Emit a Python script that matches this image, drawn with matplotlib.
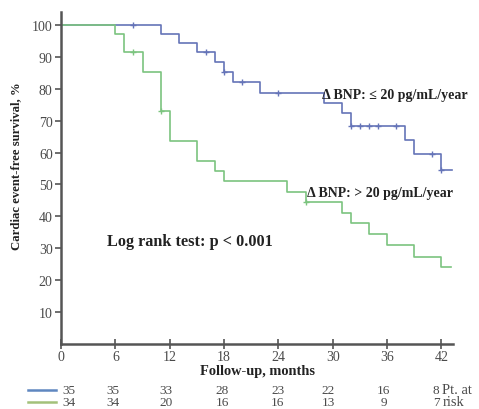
import matplotlib
matplotlib.use("Agg")
import matplotlib.pyplot as plt

# step curves: (time of drop, survival after drop)
blue_t = [0, 11, 13, 15, 17, 18, 19, 22, 29, 31, 32, 38, 39, 42, 43.2]
blue_s = [100, 97.1, 94.3, 91.4, 88.3, 85.2, 82.0, 78.7, 75.5, 72.3, 68.4, 64.0, 59.6, 54.4, 54.4]
blue_cens_t = [8, 16, 18, 20, 24, 32, 33, 34, 35, 37, 41, 42]
blue_cens_s = [100, 91.4, 85.2, 82.0, 78.7, 68.4, 68.4, 68.4, 68.4, 68.4, 59.6, 54.4]

green_t = [0, 6, 7, 9, 11, 12, 15, 17, 18, 25, 27, 31, 32, 34, 36, 39, 42, 43.1]
green_s = [100, 97.1, 91.4, 85.3, 72.9, 63.5, 57.3, 54.2, 51.0, 47.5, 44.5, 41.2, 37.8, 34.4, 31.0, 27.4, 24.0, 24.0]
green_cens_t = [8, 11, 27]
green_cens_s = [91.4, 72.9, 44.5]

risk_months = [0, 6, 12, 18, 24, 30, 36, 42]
risk_blue = [35, 35, 33, 28, 23, 22, 16, 8]
risk_green = [34, 34, 20, 16, 16, 13, 9, 7]

blue = "#6574b8"
green = "#7cc47f"
grey = "#4a4a4a"
serif = "Liberation Serif"

fig = plt.figure(figsize=(4.79, 4.10), dpi=100)
ax = fig.add_axes([0.1273, 0.1585, 0.819, 0.8095])

ax.step(blue_t, blue_s, where="post", color=blue, lw=1.2)
ax.plot(blue_cens_t, blue_cens_s, "+", color=blue, ms=5, mew=1)
ax.step(green_t, green_s, where="post", color=green, lw=1.2)
ax.plot(green_cens_t, green_cens_s, "+", color=green, ms=5, mew=1)

ax.set_xlim(0, 43.3)
ax.set_ylim(0, 104)
ax.set_xticks(risk_months)
ax.set_yticks(range(10, 101, 10))
for s in ["top", "right"]:
    ax.spines[s].set_visible(False)
for s in ["left", "bottom"]:
    ax.spines[s].set_color("#555555")
    ax.spines[s].set_linewidth(1.8)
ax.tick_params(axis="y", direction="out", length=4, width=1.2, color="#555555",
               labelsize=10, labelcolor=grey, pad=2)
ax.tick_params(axis="x", direction="inout", length=7, width=1.2, color="#555555",
               labelsize=10, labelcolor=grey, pad=0.5)
for lab in ax.get_xticklabels() + ax.get_yticklabels():
    lab.set_fontfamily(serif)

ax.set_ylabel("Cardiac event-free survival, %", fontfamily=serif, fontweight="bold",
              fontsize=9.2, color="#222222")
ax.yaxis.set_label_coords(-0.098, 0.54)
ax.set_xlabel("Follow-up, months", fontfamily=serif, fontweight="bold",
              fontsize=10.4, color="#222222", labelpad=1)

ax.text(28.8, 78.1, "\u0394 BNP: \u2264 20 pg/mL/year", fontfamily=serif, fontweight="bold",
        fontsize=10, color="#222222", ha="left", va="center")
ax.text(27.2, 47.5, "\u0394 BNP: > 20 pg/mL/year", fontfamily=serif, fontweight="bold",
        fontsize=10, color="#222222", ha="left", va="center")
ax.text(5.1, 32.3, "Log rank test: p < 0.001", fontfamily=serif, fontweight="bold",
        fontsize=11.7, color="#222222", ha="left", va="center")

# numbers at risk
offs = [0.9, -0.3, -0.4, -0.2, -0.1, -0.5, -0.4, -0.6]
for m, o, b, g in zip(risk_months, offs, risk_blue, risk_green):
    ax.text(m + o, -14.3, str(b), fontfamily=serif, fontsize=9.5, color=grey,
            ha="center", va="center", clip_on=False)
    ax.text(m + o, -18.1, str(g), fontfamily=serif, fontsize=9.5, color=grey,
            ha="center", va="center", clip_on=False)
ax.text(42.1, -14.3, "Pt. at", fontfamily=serif, fontsize=10.5, color=grey,
        ha="left", va="center", clip_on=False)
ax.text(42.1, -18.1, "risk", fontfamily=serif, fontsize=10.5, color=grey,
        ha="left", va="center", clip_on=False)
ax.plot([-3.6, -0.6], [-14.3, -14.3], color="#5f87c0", lw=1.8, clip_on=False)
ax.plot([-3.6, -0.6], [-18.1, -18.1], color="#a3c17a", lw=1.8, clip_on=False)

fig.savefig("out.png", dpi=100)
